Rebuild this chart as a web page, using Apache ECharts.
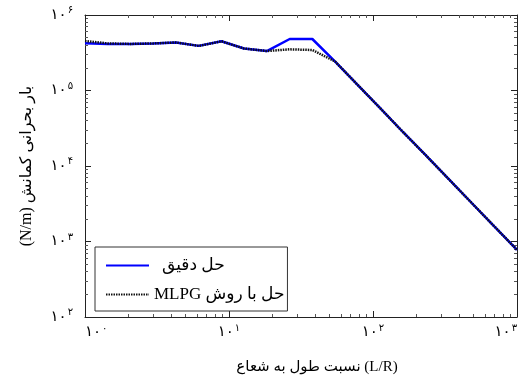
<!DOCTYPE html>
<html>
<head>
<meta charset="utf-8">
<script src="https://cdn.jsdelivr.net/npm/echarts@6/dist/echarts.min.js"></script>
<style>html,body{margin:0;padding:0;background:#fff}#c{width:525px;height:380px}</style>
</head>
<body>
<div id="c"></div>
<script>
// L/R ratio (x)
var lengthRatio = [1, 1.44, 2.07, 2.98, 4.28, 6.16, 8.86, 12.7, 18.3, 26.4, 37.9, 54.6, 78.5, 113, 162, 234, 336, 483, 695, 1000];
// exact solution (N/m)
var exactLoad = [423000, 414000, 414000, 420000, 433000, 390000, 449000, 360000, 333000, 481000, 481000, 242000, 117900, 57500, 28000, 13700, 6680, 3260, 1590, 776];
// MLPG solution (N/m)
var mlpgLoad = [453000, 420000, 414000, 420000, 433000, 390000, 449000, 360000, 333000, 351000, 344000, 242000, 117900, 57500, 28000, 13700, 6680, 3260, 1590, 776];

var seriesNames = ['حل دقیق', 'MLPG حل با روش'];
var xName = 'نسبت طول به شعاع (L/R)';
var yName = '(N/m) بار بحرانی کمانش';
var persianDigits = ['۰', '۱', '۲', '۳', '۴', '۵', '۶', '۷', '۸', '۹'];
var xMinorTicks = [2, 3, 4, 5, 6, 7, 8, 9, 20, 30, 40, 50, 60, 70, 80, 90, 200, 300, 400, 500, 600, 700, 800, 900];
var yMinorTicks = [200, 300, 400, 500, 600, 700, 800, 900,
  2000, 3000, 4000, 5000, 6000, 7000, 8000, 9000,
  20000, 30000, 40000, 50000, 60000, 70000, 80000, 90000,
  200000, 300000, 400000, 500000, 600000, 700000, 800000, 900000];

var FONT = "'Liberation Serif', 'DejaVu Sans', serif";

function powLabel(v) {
  var e = Math.round(Math.log10(v));
  return '{b|۱۰}{s|' + persianDigits[e] + '}';
}
var labelRich = {
  b: { fontSize: 15, fontFamily: FONT, color: '#000' },
  s: { fontSize: 10, fontFamily: FONT, color: '#000', padding: [0, 0, 9, 1] }
};

var lineColor = '#222';
function majorAxis(extra) {
  return Object.assign({
    type: 'log', logBase: 10,
    axisLine: { show: true, lineStyle: { color: lineColor, width: 1 } },
    axisTick: { show: true, inside: true, length: 6, lineStyle: { color: lineColor } },
    splitLine: { show: false },
    minorTick: { show: false },
    minorSplitLine: { show: false }
  }, extra);
}
function minorAxis(extra, vals) {
  return Object.assign({
    type: 'log', logBase: 10,
    axisLine: { show: false },
    axisLabel: { show: false },
    axisTick: { show: true, inside: true, length: 3, customValues: vals, lineStyle: { color: '#555' } },
    splitLine: { show: false }
  }, extra);
}

var chart = echarts.init(document.getElementById('c'), null, { renderer: 'canvas' });
chart.setOption({
  backgroundColor: '#fff',
  animation: false,
  grid: { left: 85, right: 8, top: 15, bottom: 57, containLabel: false },
  xAxis: [
    majorAxis({
      position: 'bottom', min: 1, max: 1000,
      name: xName, nameLocation: 'middle', nameGap: 43,
      nameTextStyle: { fontSize: 15, fontFamily: FONT, color: '#000', padding: [0, 0, 0, 32] },
      axisLabel: { show: true, margin: 6, formatter: powLabel, rich: labelRich, alignMinLabel: 'left', alignMaxLabel: 'right' }
    }),
    majorAxis({ position: 'top', min: 1, max: 1000, axisLabel: { show: false } }),
    minorAxis({ position: 'bottom', min: 1, max: 1000 }, xMinorTicks),
    minorAxis({ position: 'top', min: 1, max: 1000 }, xMinorTicks)
  ],
  yAxis: [
    majorAxis({
      position: 'left', min: 100, max: 1000000,
      name: yName, nameLocation: 'middle', nameGap: 50,
      nameTextStyle: { fontSize: 16, fontFamily: FONT, color: '#000' },
      axisLabel: { show: true, margin: 12, formatter: powLabel, rich: labelRich }
    }),
    majorAxis({ position: 'right', min: 100, max: 1000000, axisLabel: { show: false } }),
    minorAxis({ position: 'left', min: 100, max: 1000000 }, yMinorTicks),
    minorAxis({ position: 'right', min: 100, max: 1000000 }, yMinorTicks)
  ],
  legend: {
    orient: 'vertical',
    left: 95, top: 247,
    padding: [10, 3, 8, 10],
    itemGap: 12,
    itemWidth: 43, itemHeight: 14,
    itemStyle: { opacity: 0 },
    backgroundColor: '#fff',
    borderColor: '#333', borderWidth: 1, borderRadius: 0,
    textStyle: { fontSize: 17, fontFamily: FONT, color: '#000' },
    data: [
      { name: seriesNames[0], textStyle: { padding: [0, 0, 16, 8] } },
      { name: seriesNames[1], textStyle: { padding: [0, 0, 6, 0] } }
    ]
  },
  series: [
    {
      name: seriesNames[0], type: 'line', xAxisIndex: 0, yAxisIndex: 0,
      symbol: 'none', silent: true,
      lineStyle: { color: '#0000ff', width: 2.5 },
      itemStyle: { color: '#0000ff' },
      data: lengthRatio.map(function (x, i) { return [x, exactLoad[i]]; })
    },
    {
      name: seriesNames[1], type: 'line', xAxisIndex: 0, yAxisIndex: 0,
      symbol: 'none', silent: true,
      lineStyle: { color: '#111', width: 2.5, type: [1.5, 1] },
      itemStyle: { color: '#111' },
      data: lengthRatio.map(function (x, i) { return [x, mlpgLoad[i]]; })
    }
  ]
});
</script>
</body>
</html>
